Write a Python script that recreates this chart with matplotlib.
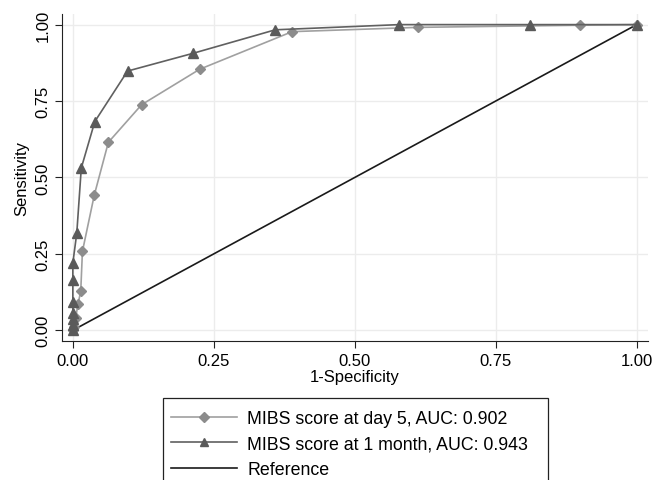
import matplotlib.pyplot as plt
from matplotlib.patches import Rectangle

plt.rcParams['font.family'] = ['Liberation Sans', 'DejaVu Sans']

# ROC points
day5_fpr = [0.0, 0.002, 0.005, 0.009, 0.014, 0.017, 0.038, 0.063, 0.122, 0.225, 0.389, 0.612, 0.899, 1.0]
day5_tpr = [0.0, 0.012, 0.040, 0.085, 0.127, 0.258, 0.442, 0.615, 0.738, 0.854, 0.977, 0.991, 0.998, 1.0]

month1_fpr = [0.0, 0.0, 0.0, 0.0, 0.0, 0.0, 0.0, 0.007, 0.015, 0.039, 0.097, 0.213, 0.359, 0.579, 0.811, 1.0]
month1_tpr = [0.0, 0.016, 0.036, 0.056, 0.093, 0.165, 0.220, 0.318, 0.531, 0.683, 0.848, 0.906, 0.983, 1.0, 1.0, 1.0]

ref_x = [0.0, 1.0]
ref_y = [0.0, 1.0]

labels = ["MIBS score at day 5, AUC: 0.902",
          "MIBS score at 1 month, AUC: 0.943",
          "Reference"]
ticks = [0.0, 0.25, 0.5, 0.75, 1.0]
tick_labels = ["0.00", "0.25", "0.50", "0.75", "1.00"]

W, H = 668, 481
fig = plt.figure(figsize=(W / 100, H / 100), dpi=100)
ax = fig.add_axes([0.093, 0.289, 0.877, 0.68])

l1, = ax.plot(day5_fpr, day5_tpr, color="#a0a0a0", lw=1.2, marker="D", ms=5.5,
              mfc="#8c8c8c", mec="#8c8c8c", zorder=3)
l2, = ax.plot(month1_fpr, month1_tpr, color="#606060", lw=1.2, marker="^", ms=7,
              mfc="#5a5a5a", mec="#5a5a5a", zorder=4)
l3, = ax.plot(ref_x, ref_y, color="#1a1a1a", lw=1.2, zorder=2)

ax.set_xlim(-0.019, 1.02)
ax.set_ylim(-0.035, 1.035)
ax.set_xticks(ticks)
ax.set_xticklabels(tick_labels, fontsize=12)
ax.set_yticks(ticks)
ax.set_yticklabels(tick_labels, fontsize=12, rotation=90, va="center")
ax.grid(True, color="#ececec", lw=1.0)
ax.set_axisbelow(True)
for s in ["top", "right"]:
    ax.spines[s].set_visible(False)
for s in ["left", "bottom"]:
    ax.spines[s].set_color("#222222")
ax.tick_params(direction="out", length=5, color="#222222")
ax.set_xlabel("1-Specificity", fontsize=12, labelpad=1)
ax.set_ylabel("Sensitivity", fontsize=12, labelpad=4)

# legend without its own frame; a wider box is drawn separately (runs off the bottom)
leg = fig.legend([l1, l2, l3], labels, loc="upper left",
                 bbox_to_anchor=(163 / W, 1 - 403 / H), fontsize=12.8,
                 frameon=False, handlelength=3.7, handletextpad=0.6,
                 borderpad=0.45, labelspacing=0.48, borderaxespad=0,
                 markerscale=0.85)
box = Rectangle((163 / W, -0.05), (548 - 163) / W, 0.05 + 1 - 399 / H,
                transform=fig.transFigure, fill=False, ec="#222222", lw=0.9)
fig.patches.append(box)

fig.savefig("out.png", dpi=100)
